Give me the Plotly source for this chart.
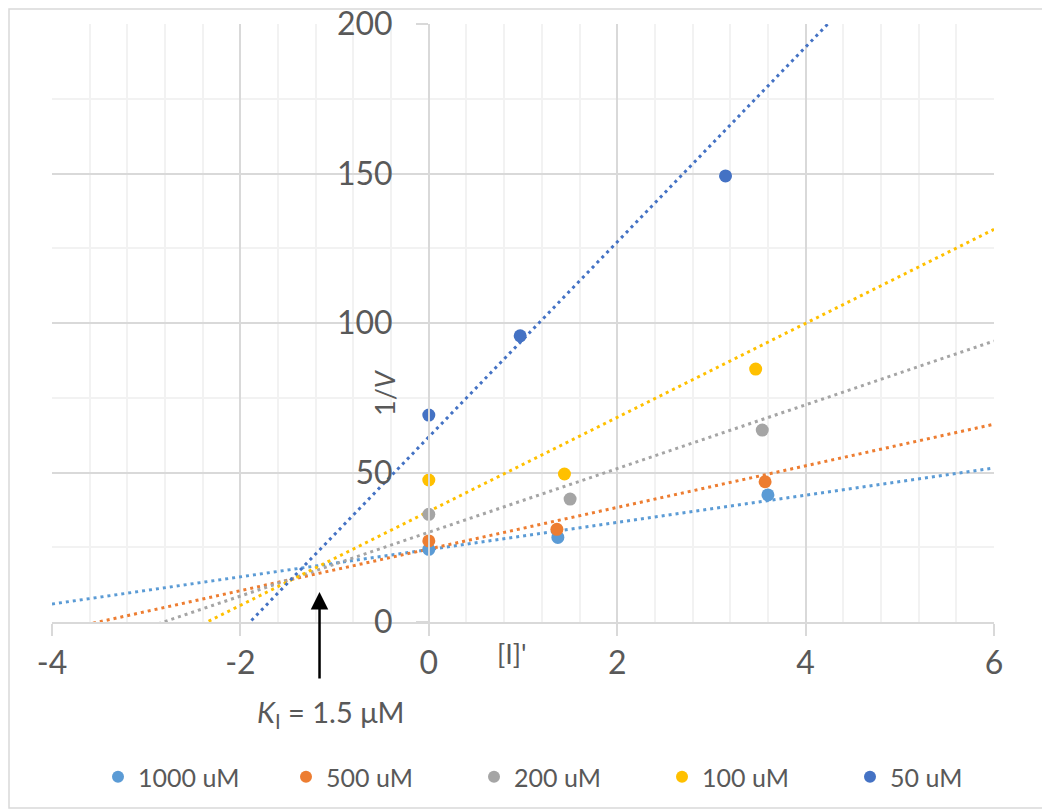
import plotly.graph_objects as go

# ---------------- data ----------------
series_names = ["1000 uM", "500 uM", "200 uM", "100 uM", "50 uM"]
series_colors = ["#5B9BD5", "#ED7D31", "#A5A5A5", "#FFC000", "#4472C4"]

x_1000 = [0.0, 1.37, 3.60]
y_1000 = [24.3, 28.3, 42.5]
x_500 = [0.0, 1.36, 3.57]
y_500 = [27.1, 31.0, 46.9]
x_200 = [0.0, 1.50, 3.54]
y_200 = [36.0, 41.1, 64.2]
x_100 = [0.0, 1.44, 3.47]
y_100 = [47.5, 49.5, 84.6]
x_50 = [0.0, 0.97, 3.15]
y_50 = [69.2, 95.7, 149.2]

# trendlines (slope, intercept) as drawn
trend_slopes = [4.55, 6.96, 10.66, 15.72, 32.6]
trend_intercepts = [24.2, 24.4, 30.0, 37.0, 61.9]

x_range = [-4, 6]
y_range = [0, 200]
x_ticks = [-4, -2, 0, 2, 4, 6]
y_ticks = [0, 50, 100, 150, 200]

xs = [x_1000, x_500, x_200, x_100, x_50]
ys = [y_1000, y_500, y_200, y_100, y_50]

# ---------------- layout geometry ----------------
OFF = 8  # default page body margin
W, H = 1042, 803
L, R, T, B = 44, 56, 16, 189
pw, ph = W - L - R, H - T - B


def px(xp):
    """page pixel x -> paper fraction"""
    return (xp - OFF - L) / pw


def py(yp):
    """page pixel y -> paper fraction"""
    return (H - B - (yp - OFF)) / ph


TXT = "#595959"
FONT = "Lato"

fig = go.Figure()

# trendlines
for name, col, m, b in zip(series_names, series_colors, trend_slopes, trend_intercepts):
    lx = [x_range[0], x_range[1]]
    ly = [m * v + b for v in lx]
    fig.add_trace(go.Scatter(
        x=lx, y=ly, mode="lines", showlegend=False, hoverinfo="skip",
        line=dict(color=col, width=3, dash="3px,4px"),
    ))

# points
for name, col, x, y in zip(series_names, series_colors, xs, ys):
    fig.add_trace(go.Scatter(
        x=x, y=y, mode="markers", name=name,
        marker=dict(color=col, size=13),
    ))

fig.update_layout(
    width=W, height=H,
    margin=dict(l=L, r=R, t=T, b=B, autoexpand=False),
    paper_bgcolor="white", plot_bgcolor="white",
    font=dict(family=FONT, color=TXT),
    showlegend=True,
    legend=dict(
        orientation="h", x=px(568), xanchor="center", y=py(777), yanchor="middle",
        font=dict(size=25, color=TXT, family=FONT), entrywidth=143,
        itemsizing="constant", bgcolor="rgba(0,0,0,0)",
    ),
    xaxis=dict(
        range=x_range, tickvals=x_ticks, ticktext=[str(v) for v in x_ticks],
        automargin=False, ticklabeloverflow="allow",
        showgrid=True, gridcolor="#d9d9d9", gridwidth=1.5,
        minor=dict(dtick=0.4, showgrid=True, gridcolor="#f2f2f2", gridwidth=1.5, ticks=""),
        zeroline=False, showline=True, linecolor="#d9d9d9", linewidth=1.5,
        ticks="outside", ticklen=12, tickcolor="#d9d9d9", tickwidth=1.5,
        tickfont=dict(size=32, color=TXT, family=FONT), ticklabelstandoff=0,
    ),
    yaxis=dict(
        range=y_range, tickvals=y_ticks, ticktext=[str(v) for v in y_ticks],
        automargin=False, ticklabeloverflow="allow",
        anchor="free", position=(0 - x_range[0]) / (x_range[1] - x_range[0]),
        showgrid=True, gridcolor="#d9d9d9", gridwidth=1.5,
        minor=dict(dtick=25, showgrid=True, gridcolor="#f2f2f2", gridwidth=1.5, ticks=""),
        zeroline=False, showline=True, linecolor="#d9d9d9", linewidth=1.5,
        ticks="outside", ticklen=12, tickcolor="#d9d9d9", tickwidth=1.5,
        tickfont=dict(size=32, color=TXT, family=FONT), ticklabelstandoff=17,
    ),
)

# outer chart border
fig.add_shape(type="rect", xref="paper", yref="paper",
              x0=px(9), x1=px(1047), y0=py(808), y1=py(9),
              line=dict(color="#d9d9d9", width=1.5), fillcolor="rgba(0,0,0,0)", layer="below")

# axis titles
fig.add_annotation(text="1/<i>V</i>", xref="paper", yref="paper", x=px(385), y=py(393),
                   showarrow=False, textangle=-90, font=dict(size=27, color=TXT, family=FONT),
                   xanchor="center", yanchor="middle")
fig.add_annotation(text="[I]'", xref="paper", yref="paper", x=px(512), y=py(653),
                   showarrow=False, font=dict(size=27, color=TXT, family=FONT),
                   xanchor="center", yanchor="middle")

# K_I arrow and label
fig.add_annotation(text="", x=-1.16, y=10, xref="x", yref="y",
                   ax=0, ay=88, axref="pixel", ayref="pixel",
                   showarrow=True, arrowhead=2, arrowsize=1.4, arrowwidth=2.5, arrowcolor="black")
fig.add_annotation(text="<i>K</i><sub>I</sub> = 1.5 μM", xref="paper", yref="paper",
                   x=px(330), y=py(713), showarrow=False,
                   font=dict(size=29, color=TXT, family=FONT), xanchor="center", yanchor="middle")

fig.write_html("out.html")
